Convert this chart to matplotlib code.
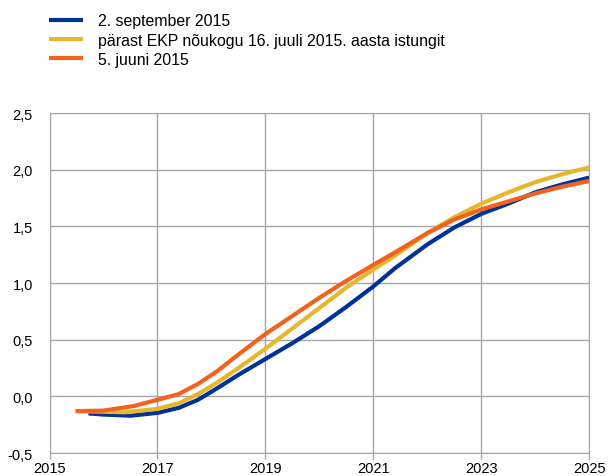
import matplotlib
matplotlib.use("Agg")
import matplotlib.pyplot as plt

plt.rcParams['font.family'] = ['Liberation Sans', 'DejaVu Sans']

labels = ["2. september 2015",
          "pärast EKP nõukogu 16. juuli 2015. aasta istungit",
          "5. juuni 2015"]
colors = ["#003299", "#e6b62c", "#f2621e"]

x_blue = [2015.72, 2016.0, 2016.5, 2017.0, 2017.4, 2017.75, 2018.1, 2018.5, 2019.0, 2019.5, 2020.0,
          2020.5, 2021.0, 2021.4, 2022.0, 2022.5, 2023.0, 2023.5, 2024.0, 2024.5, 2025.0]
y_blue = [-0.15, -0.16, -0.17, -0.145, -0.10, -0.03, 0.07, 0.19, 0.33, 0.47, 0.62,
          0.79, 0.97, 1.13, 1.34, 1.49, 1.61, 1.70, 1.80, 1.87, 1.93]

x_yellow = [2015.5, 2016.0, 2016.4, 2017.0, 2017.4, 2017.75, 2018.1, 2018.5, 2019.0, 2019.5, 2020.0,
            2020.5, 2021.0, 2021.4, 2022.0, 2022.5, 2023.0, 2023.5, 2024.0, 2024.5, 2025.0]
y_yellow = [-0.13, -0.135, -0.14, -0.11, -0.06, 0.02, 0.12, 0.25, 0.42, 0.60, 0.78,
            0.96, 1.12, 1.24, 1.44, 1.58, 1.70, 1.80, 1.89, 1.96, 2.02]

x_orange = [2015.48, 2016.0, 2016.56, 2017.0, 2017.39, 2017.75, 2018.1, 2018.5, 2019.0, 2019.5, 2020.0,
            2020.5, 2021.0, 2021.4, 2022.0, 2022.5, 2023.0, 2023.5, 2024.0, 2024.5, 2025.0]
y_orange = [-0.13, -0.125, -0.085, -0.03, 0.02, 0.11, 0.22, 0.37, 0.55, 0.71, 0.87,
            1.02, 1.16, 1.27, 1.44, 1.56, 1.65, 1.72, 1.79, 1.85, 1.90]

xticks = [2015, 2017, 2019, 2021, 2023, 2025]
yticks = [-0.5, 0.0, 0.5, 1.0, 1.5, 2.0, 2.5]
ytick_labels = ["-0,5", "0,0", "0,5", "1,0", "1,5", "2,0", "2,5"]

fig = plt.figure(figsize=(6.08, 4.77), dpi=100)
ax = fig.add_axes([0.0815, 0.048, 0.8875, 0.713])

lines = []
for xs, ys, c, lab in [(x_blue, y_blue, colors[0], labels[0]),
                       (x_yellow, y_yellow, colors[1], labels[1]),
                       (x_orange, y_orange, colors[2], labels[2])]:
    l, = ax.plot(xs, ys, color=c, lw=3, label=lab, solid_capstyle='butt',
                 solid_joinstyle='round')
    lines.append(l)

ax.set_xlim(2015, 2025)
ax.set_ylim(-0.5, 2.5)
ax.set_xticks(xticks)
ax.set_xticklabels([str(t) for t in xticks])
ax.set_yticks(yticks)
ax.set_yticklabels(ytick_labels)
ax.grid(True, color="#a6a6a6", lw=1)
ax.set_axisbelow(True)
for s in ax.spines.values():
    s.set_color("#a6a6a6")
ax.tick_params(axis='x', colors="#a6a6a6", labelcolor="black", labelsize=10.5,
               length=4, width=1, pad=2)
ax.tick_params(axis='y', colors="#a6a6a6", labelcolor="black", labelsize=10.5,
               length=0, pad=12)

fig.legend(handles=lines, labels=labels, loc='upper left', bbox_to_anchor=(0.081, 0.970),
           frameon=False, fontsize=11.4, handlelength=2.15, handletextpad=0.95,
           labelspacing=0.27, borderaxespad=0, borderpad=0)

fig.savefig("out.png", dpi=100)
